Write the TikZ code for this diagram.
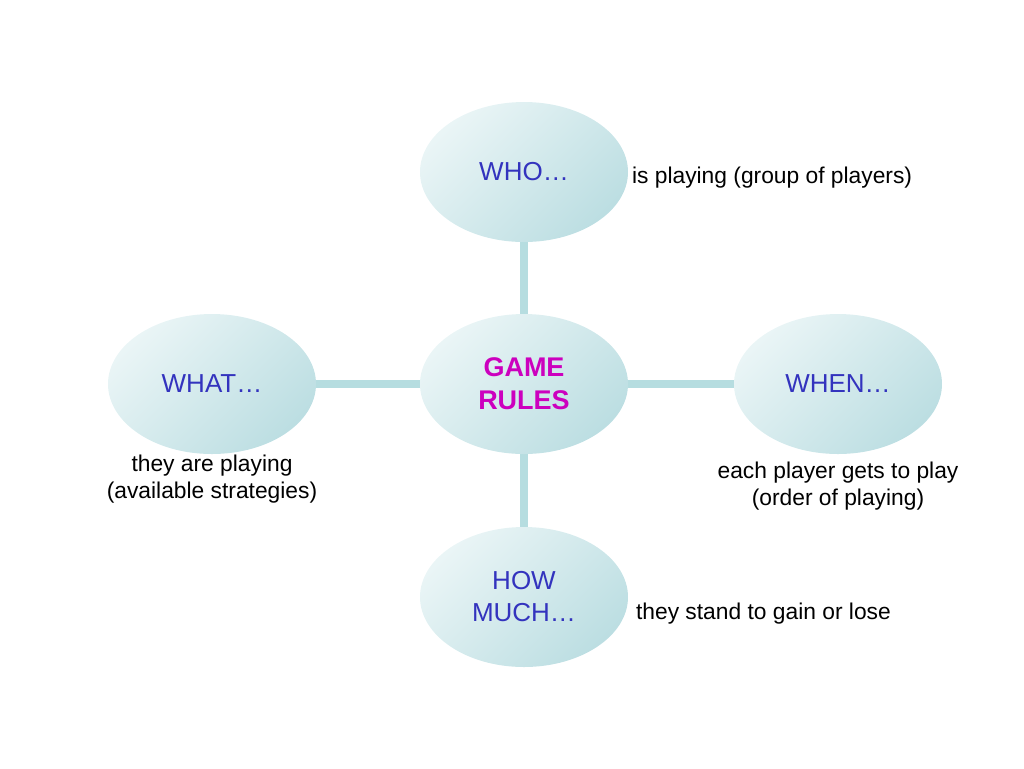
\documentclass[tikz,border=0pt]{standalone}
\usepackage{fontspec}
\setmainfont{Liberation Sans}
\usetikzlibrary{shapes.geometric,backgrounds}

\definecolor{linkteal}{RGB}{182,221,224}
\definecolor{bubblelight}{RGB}{234,245,246}
\definecolor{bubbledark}{RGB}{188,222,226}
\definecolor{askblue}{RGB}{51,51,190}
\definecolor{rulemagenta}{RGB}{204,0,190}

\tikzset{
  bubble/.style={ellipse,minimum width=104pt,minimum height=70pt,inner sep=0pt,
    top color=bubblelight,bottom color=bubbledark,shading angle=45,
    align=center,font=\fontsize{13}{16}\selectfont,text=askblue},
  link/.style={linkteal,line width=4pt},
  note/.style={font=\fontsize{11.4}{13.5}\selectfont,align=center}
}

\begin{document}
\begin{tikzpicture}[x=0.5pt,y=-0.5pt]
    \useasboundingbox (0,0) rectangle (1024,768);

    \node[bubble,text=rulemagenta,font=\fontsize{13.5}{16.5}\selectfont\bfseries] (rules) at (524,384) {GAME\\RULES};
    \node[bubble] (who) at (524,172) {WHO\dots};
    \node[bubble] (what) at (212,384) {WHAT\dots};
    \node[bubble] (when) at (838,384) {WHEN\dots};
    \node[bubble] (howmuch) at (524,597) {HOW\\MUCH\dots};

    % links sit behind the bubbles
    \begin{scope}[on background layer]
      \draw[link] (rules.center) -- (who.center);
      \draw[link] (rules.center) -- (what.center);
      \draw[link] (rules.center) -- (when.center);
      \draw[link] (rules.center) -- (howmuch.center);
    \end{scope}

    \node[note,anchor=west] (whonote) at (625,178) {is playing (group of players)};
    \node[note] (whatnote) at (212,479) {they are playing\\(available strategies)};
    \node[note] (whennote) at (838,486) {each player gets to play\\(order of playing)};
    \node[note,anchor=west] (hownote) at (629,614) {they stand to gain or lose};
\end{tikzpicture}
\end{document}
